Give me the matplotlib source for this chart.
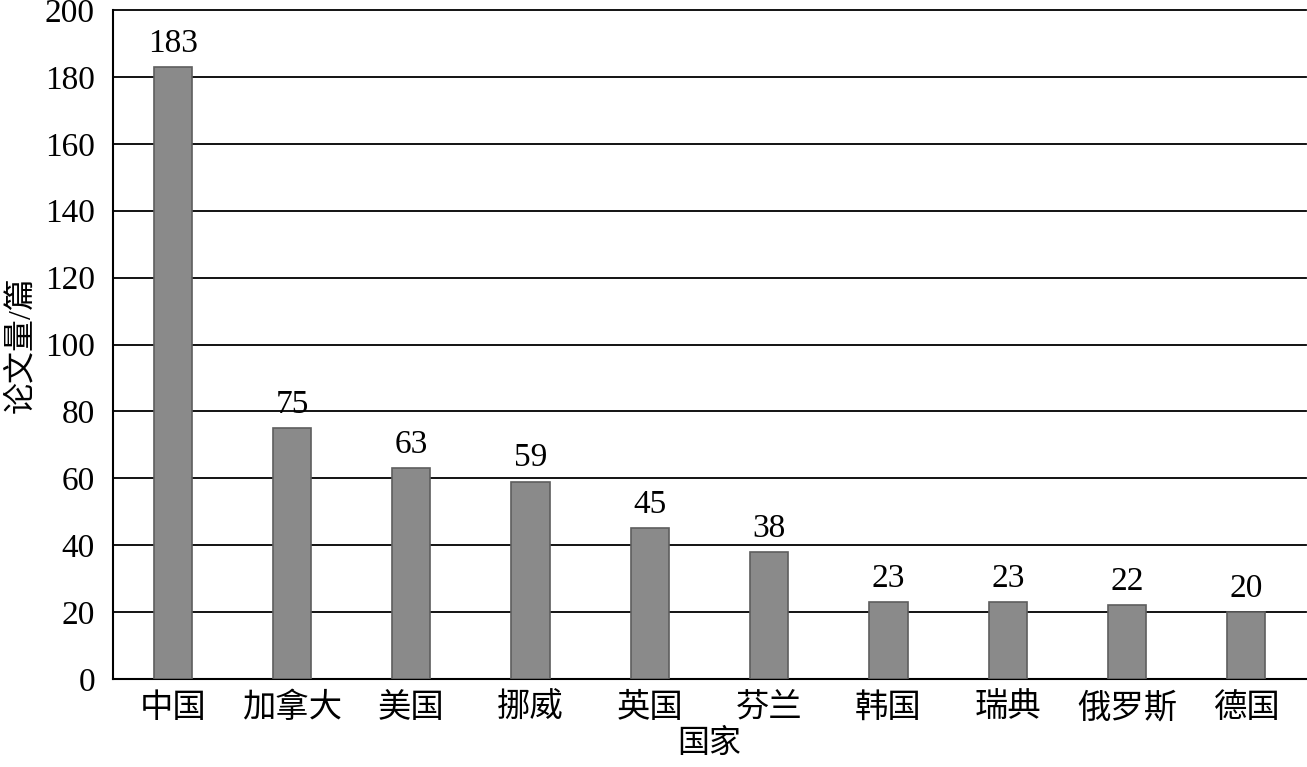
import matplotlib
matplotlib.use('Agg')
import matplotlib.pyplot as plt
import numpy as np

countries = ['中国', '加拿大', '美国', '挪威', '英国', '芬兰', '韩国', '瑞典', '俄罗斯', '德国']
papers = [183, 75, 63, 59, 45, 38, 23, 23, 22, 20]
yticks = [0, 20, 40, 60, 80, 100, 120, 140, 160, 180, 200]

plt.rcParams['font.family'] = ['Liberation Serif', 'Noto Sans CJK SC']

fig = plt.figure(figsize=(13.07, 7.67), dpi=100)
ax = fig.add_axes([113/1307, 88/767, 1193/1307, 669/767])

x = np.arange(len(countries))
bars = ax.bar(x, papers, width=0.32, color='#8a8a8a', edgecolor='#5e5e5e',
              linewidth=1.2, zorder=3)
for xi, v in zip(x, papers):
    ax.annotate(str(v), (xi, v), xytext=(0, 6), textcoords='offset points',
                ha='center', va='bottom', fontsize=24, zorder=4)

ax.set_xlim(-0.5, len(countries) - 0.5)
ax.set_ylim(0, 200)
ax.set_yticks(yticks)
ax.set_xticks(x)
ax.set_xticklabels(countries)
ax.tick_params(axis='both', length=0, labelsize=24)
ax.tick_params(axis='y', pad=13)
ax.tick_params(axis='x', pad=10)
for t in yticks[1:]:
    ax.axhline(t, color='black', linewidth=1.3, zorder=1, clip_on=False)

for s in ['top', 'right']:
    ax.spines[s].set_visible(False)
for s in ['left', 'bottom']:
    ax.spines[s].set_linewidth(1.5)
    ax.spines[s].set_color('black')

ax.set_xlabel('国家', fontsize=23, labelpad=3)
ax.set_ylabel('论文量/篇', fontsize=23, labelpad=6)

fig.savefig('out.png', dpi=100, facecolor='white')
